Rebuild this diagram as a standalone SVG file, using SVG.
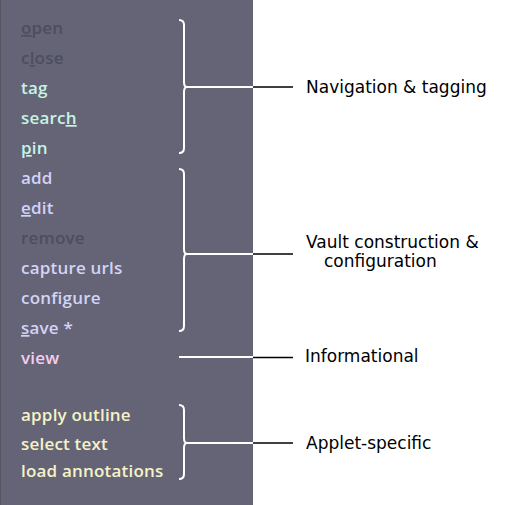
<svg xmlns="http://www.w3.org/2000/svg" width="532" height="505" viewBox="0 0 532 505">
<style>
.it{font-family:"Open Sans",Lato,"Liberation Sans",sans-serif;font-size:17px;font-weight:600;letter-spacing:0.2px}
.dim{fill:#4d4d61}
.mint{fill:#c6f3e4}
.lav{fill:#d3d3f7}
.pink{fill:#f6cdef}
.yel{fill:#f7f2c6}
.u{text-decoration:underline}
.br{fill:none;stroke:#ffffff;stroke-width:2;stroke-linejoin:round}
.ln{stroke:#000000;stroke-width:1.3}
.lb{font-family:"DejaVu Sans",sans-serif;font-size:17px;fill:#000000}
</style>
<rect x="0" y="0" width="532" height="505" fill="#ffffff"/>
<rect id="panel" x="0" y="0" width="253" height="505" fill="#646476"/>
<line x1="0.5" y1="0" x2="0.5" y2="505" stroke="#55555f" stroke-width="1"/>
<g id="items">
<text class="it dim" x="21" y="34"><tspan class="u">o</tspan>pen</text>
<text class="it dim" x="21" y="64">c<tspan class="u">l</tspan>ose</text>
<text class="it mint" x="21" y="94">tag</text>
<text class="it mint" x="21" y="124">searc<tspan class="u">h</tspan></text>
<text class="it mint" x="21" y="154"><tspan class="u">p</tspan>in</text>
<text class="it lav" x="21" y="184">add</text>
<text class="it lav" x="21" y="214"><tspan class="u">e</tspan>dit</text>
<text class="it dim" x="21" y="244">remove</text>
<text class="it lav" x="21" y="274">capture urls</text>
<text class="it lav" x="21" y="304">configure</text>
<text class="it lav" x="21" y="334"><tspan class="u">s</tspan>ave *</text>
<text class="it pink" x="21" y="364">view</text>
<text class="it yel" x="21" y="421">apply outline</text>
<text class="it yel" x="21" y="449.5">select text</text>
<text class="it yel" x="21" y="477">load annotations</text>
</g>
<g id="connectors">
<path class="br" d="M179,20 Q184,20 184,25 L184,82 Q184,87 187,87 L253,87 M187,87 Q184,87 184,92 L184,148 Q184,153 179,153"/>
<path class="br" d="M179,169 Q184,169 184,174 L184,249 Q184,254 187,254 L253,254 M187,254 Q184,254 184,259 L184,326 Q184,331 179,331"/>
<path class="br" d="M179,357 L253,357"/>
<path class="br" d="M179,405 Q184,405 184,410 L184,438 Q184,443 187,443 L253,443 M187,443 Q184,443 184,448 L184,474 Q184,479 179,479"/>
<line class="ln" x1="253" y1="87" x2="293" y2="87"/>
<line class="ln" x1="253" y1="254" x2="293" y2="254"/>
<line class="ln" x1="253" y1="357.5" x2="293" y2="357.5"/>
<line class="ln" x1="253" y1="443" x2="293" y2="443"/>
</g>
<g id="nav"><text class="lb" x="306" y="93">Navigation &amp; tagging</text></g>
<g id="vault"><text class="lb" x="306" y="248">Vault construction &amp;</text><text class="lb" x="324" y="267">configuration</text></g>
<g id="info"><text class="lb" x="305" y="362">Informational</text></g>
<g id="applet"><text class="lb" x="306" y="449">Applet-specific</text></g>
</svg>
